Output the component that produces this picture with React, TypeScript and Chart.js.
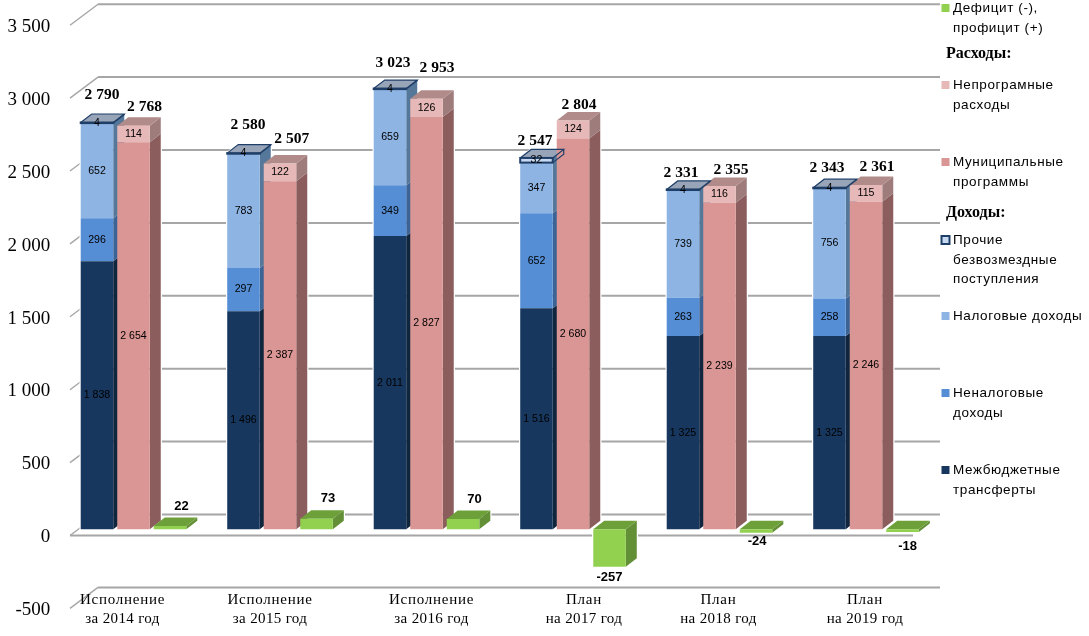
import React, { useEffect, useRef } from "react";
import { Chart, registerables } from "chart.js";

Chart.register(...registerables);

const categories = [
  ["Исполнение", "за 2014 год"],
  ["Исполнение", "за 2015 год"],
  ["Исполнение", "за 2016 год"],
  ["План", "на 2017 год"],
  ["План", "на 2018 год"],
  ["План", "на 2019 год"],
];
const transfers = [1838, 1496, 2011, 1516, 1325, 1325];
const nonTax = [296, 297, 349, 652, 263, 258];
const tax = [652, 783, 659, 347, 739, 756];
const otherFree = [4, 4, 4, 32, 4, 4];
const programs = [2654, 2387, 2827, 2680, 2239, 2246];
const nonProgram = [114, 122, 126, 124, 116, 115];
const balance = [22, 73, 70, -257, -24, -18];
const incomeTotals = [2790, 2580, 3023, 2547, 2331, 2343];
const expenseTotals = [2768, 2507, 2953, 2804, 2355, 2361];

// hand placement of the labels in the original, px relative to the mark
const incomeNudge = [[5, -27.5], [4.5, -28], [3, -25.6], [-1.5, -17], [-2, -16.4], [-2.5, -19.7]];
const expenseNudge = [[11, -18.7], [11.7, -24.8], [10.5, -30.7], [6, -15.5], [11.5, -16], [11, -18]];
const categoryNudge = [-11, -10, 5, 11, -1, -1];
const balanceNudge = [[11.5, -11.5], [11.5, -11.5], [11.5, -11.5], [0, 10.5], [1, 8.5], [5, 14]];

const DX = 11;
const DY = 8.5;
const FRONT_DROP = 6.2; // tick labels/grid front edge sit below the bars' front plane
const GRID_DX = 28;
const GRID_DY = 21;
const GRID_RIGHT = 940;
const FLOOR_RIGHT = 913;
const NAVY = "#1F3F68";
const SERIF = "'Liberation Serif'";
const SANS = "'Liberation Sans'";

const fmt = (v: number) => {
  const s = String(Math.abs(v));
  const body = s.length > 3 ? s.slice(0, -3) + " " + s.slice(-3) : s;
  return (v < 0 ? "-" : "") + body;
};

// [front, side, top] for every series
const styles: Record<string, string[]> = {
  transfers: ["#17375E", "#10263F", "#10263F"],
  nonTax: ["#558ED5", "#3B6395", "#3B6395"],
  tax: ["#8EB4E3", "#557799", "#6F8CB0"],
  other: ["#C6D9F1", "#557799", "#98A5B8"],
  programs: ["#D99694", "#8B5D5D", "#A07676"],
  nonProgram: ["#E6B9B8", "#9D7C7B", "#B08B89"],
  balance: ["#92D050", "#638F37", "#6EA03A"],
};

const legendRows = [
  { marker: "balance", lines: ["Дефицит (-),", "профицит (+)"], y: [8, 28] },
  { head: "Расходы:", y: [54] },
  { marker: "nonProgram", lines: ["Непрограмные", "расходы"], y: [85, 105] },
  { marker: "programs", lines: ["Муниципальные", "программы"], y: [162, 182] },
  { head: "Доходы:", y: [213] },
  { marker: "other", lines: ["Прочие", "безвозмездные", "поступления"], y: [240, 260, 279] },
  { marker: "tax", lines: ["Налоговые доходы"], y: [316] },
  { marker: "nonTax", lines: ["Неналоговые", "доходы"], y: [393, 413] },
  { marker: "transfers", lines: ["Межбюджетные", "трансферты"], y: [470, 490] },
];

function path(ctx: CanvasRenderingContext2D, pts: number[][]) {
  ctx.beginPath();
  pts.forEach((p, i) => (i ? ctx.lineTo(p[0], p[1]) : ctx.moveTo(p[0], p[1])));
  ctx.closePath();
}

function poly(ctx: CanvasRenderingContext2D, pts: number[][], fill: string) {
  path(ctx, pts);
  ctx.fillStyle = fill;
  ctx.fill();
}

const scene = {
  id: "scene",
  beforeDatasetsDraw(chart: any) {
    const { ctx } = chart;
    const yS = chart.scales.y;
    ctx.save();
    ctx.strokeStyle = "#A6A6A6";
    for (const t of yS.ticks) {
      const fy = yS.getPixelForValue(t.value) + FRONT_DROP;
      const by = fy - GRID_DY;
      ctx.lineWidth = 1.4;
      ctx.beginPath();
      ctx.moveTo(70, fy);
      ctx.lineTo(70 + GRID_DX, by);
      ctx.stroke();
      ctx.lineWidth = 2;
      ctx.beginPath();
      ctx.moveTo(70 + GRID_DX, by);
      ctx.lineTo(GRID_RIGHT, by);
      ctx.stroke();
      if (t.value === 0) {
        ctx.beginPath();
        ctx.moveTo(70, fy);
        ctx.lineTo(FLOOR_RIGHT, fy);
        ctx.stroke();
      }
    }
    const order = ["inc", "exp", "bal"];
    const stackMetas = (stack: string) => {
      const metas = chart.getSortedVisibleDatasetMetas().filter((m: any) => m._dataset.stack === stack);
      return metas.sort((a: any, b: any) => a.index - b.index);
    };
    // thin white halo that cuts the grid around each stack
    ctx.strokeStyle = "#fff";
    ctx.lineWidth = 2.4;
    chart.data.labels.forEach((_: any, i: number) => {
      order.forEach((stack) => {
        const els = stackMetas(stack).map((m: any) => m.data[i]);
        const t = Math.min(...els.map((e: any) => Math.min(e.y, e.base)));
        const b = Math.max(...els.map((e: any) => Math.max(e.y, e.base)));
        const x1 = els[0].x - els[0].width / 2;
        const x2 = els[0].x + els[0].width / 2;
        path(ctx, [[x1, t], [x1 + DX, t - DY], [x2 + DX, t - DY], [x2 + DX, b - DY], [x2, b], [x1, b]]);
        ctx.stroke();
      });
    });
    // 3D faces, left to right so that nearer stacks overlap further ones
    chart.data.labels.forEach((_: any, i: number) => {
      order.forEach((stack) => {
        const metas = stackMetas(stack);
        metas.forEach((m: any, k: number) => {
          const el = m.data[i];
          const st = styles[m._dataset.key];
          const x2 = el.x + el.width / 2;
          const x1 = el.x - el.width / 2;
          const t = Math.min(el.y, el.base);
          const b = Math.max(el.y, el.base);
          poly(ctx, [[x2, t], [x2 + DX, t - DY], [x2 + DX, b - DY], [x2, b]], st[1]);
          if (k === metas.length - 1) {
            poly(ctx, [[x1, t], [x1 + DX, t - DY], [x2 + DX, t - DY], [x2, t]], st[2]);
          }
        });
      });
    });
    ctx.restore();
  },
  afterDatasetsDraw(chart: any) {
    const { ctx } = chart;
    const xS = chart.scales.x;
    ctx.save();
    const metaOf = (key: string) =>
      chart.getSortedVisibleDatasetMetas().find((m: any) => m._dataset.key === key);

    // navy outline of the thin top series
    const other = metaOf("other");
    ctx.strokeStyle = NAVY;
    other.data.forEach((el: any) => {
      const x1 = el.x - el.width / 2;
      const x2 = el.x + el.width / 2;
      const t = el.y;
      const b = el.base;
      ctx.lineWidth = 2;
      ctx.strokeRect(x1, t, el.width, b - t);
      ctx.lineWidth = 1.2;
      ctx.beginPath();
      ctx.moveTo(x1, t);
      ctx.lineTo(x1 + DX, t - DY);
      ctx.lineTo(x2 + DX, t - DY);
      ctx.lineTo(x2, t);
      ctx.moveTo(x2 + DX, t - DY);
      ctx.lineTo(x2 + DX, b - DY);
      ctx.lineTo(x2, b);
      ctx.stroke();
    });

    // values inside the segments
    ctx.textAlign = "center";
    ctx.textBaseline = "middle";
    ctx.fillStyle = "#000";
    ctx.font = `10.6px ${SANS}`;
    ["transfers", "nonTax", "tax", "other", "programs", "nonProgram"].forEach((key) => {
      const m = metaOf(key);
      m.data.forEach((el: any, i: number) => {
        ctx.fillText(fmt(m._dataset.data[i]), el.x, (el.y + el.base) / 2);
      });
    });

    // stack totals
    ctx.font = `bold 15.5px ${SERIF}`;
    const topInc = metaOf("other");
    const topExp = metaOf("nonProgram");
    incomeTotals.forEach((v, i) => {
      const el = topInc.data[i];
      ctx.fillText(fmt(v), el.x + incomeNudge[i][0], el.y + incomeNudge[i][1]);
    });
    expenseTotals.forEach((v, i) => {
      const el = topExp.data[i];
      ctx.fillText(fmt(v), el.x + expenseNudge[i][0], el.y + expenseNudge[i][1]);
    });

    // balance labels
    ctx.font = `bold 13px ${SANS}`;
    const bal = metaOf("balance");
    balance.forEach((v, i) => {
      const el = bal.data[i];
      const edge = v >= 0 ? el.y - DY : el.y;
      ctx.fillText(fmt(v), el.x + balanceNudge[i][0], edge + balanceNudge[i][1]);
    });

    // category labels
    ctx.font = `15px ${SERIF}`;
    categories.forEach((lines, i) => {
      const x = xS.getPixelForTick(i) + categoryNudge[i];
      (ctx as any).letterSpacing = "0.75px";
      ctx.fillText(lines[0], x, 600);
      (ctx as any).letterSpacing = "0.35px";
      ctx.fillText(lines[1], x, 619);
    });
    (ctx as any).letterSpacing = "0px";

    // legend
    ctx.textAlign = "left";
    legendRows.forEach((row: any) => {
      if (row.head) {
        ctx.font = `bold 16px ${SERIF}`;
        ctx.fillStyle = "#000";
        ctx.fillText(row.head, 946, row.y[0]);
        return;
      }
      const c = styles[row.marker][0];
      ctx.fillStyle = c;
      ctx.fillRect(941.5, row.y[0] - 4, 8, 8);
      if (row.marker === "other") {
        ctx.strokeStyle = NAVY;
        ctx.lineWidth = 2;
        ctx.strokeRect(941.5, row.y[0] - 4, 8, 8);
      }
      ctx.fillStyle = "#000";
      ctx.font = `13.5px ${SANS}`;
      (ctx as any).letterSpacing = "0.6px";
      row.lines.forEach((l: string, k: number) => ctx.fillText(l, 953, row.y[k]));
      (ctx as any).letterSpacing = "0px";
    });
    ctx.restore();
  },
};

const ds = (label: string, key: string, stack: string, data: number[]) => ({
  label,
  key,
  stack,
  data,
  backgroundColor: styles[key][0],
  borderWidth: 0,
  categoryPercentage: 0.748,
  barPercentage: 0.89,
});

export default function App() {
  const ref = useRef<HTMLCanvasElement>(null);
  useEffect(() => {
    const chart = new Chart(ref.current as HTMLCanvasElement, {
      type: "bar",
      plugins: [scene],
      data: {
        labels: categories.map((c) => c.join(" ")),
        datasets: [
          ds("Межбюджетные трансферты", "transfers", "inc", transfers),
          ds("Неналоговые доходы", "nonTax", "inc", nonTax),
          ds("Налоговые доходы", "tax", "inc", tax),
          ds("Прочие безвозмездные поступления", "other", "inc", otherFree),
          ds("Муниципальные программы", "programs", "exp", programs),
          ds("Непрограмные расходы", "nonProgram", "exp", nonProgram),
          ds("Дефицит (-), профицит (+)", "balance", "bal", balance),
        ] as any,
      },
      options: {
        animation: false,
        responsive: false,
        devicePixelRatio: 1,
        layout: { padding: { left: 0, right: 149.75, top: 19, bottom: 33.8 } },
        plugins: { legend: { display: false }, tooltip: { enabled: false } },
        scales: {
          x: { display: false, stacked: true, offset: true },
          y: {
            stacked: true,
            min: -500,
            max: 3500,
            afterFit: (s: any) => {
              s.width = 60.25;
              s.paddingTop = 0;
              s.paddingBottom = 0;
            },
            border: { display: false },
            grid: { display: false, drawTicks: false },
            ticks: {
              stepSize: 500,
              padding: 10,
              labelOffset: 8,
              color: "#000",
              font: { family: "Liberation Serif", size: 19 },
              callback: (v: any) => fmt(Number(v)),
            },
          },
        },
      } as any,
    });
    return () => chart.destroy();
  }, []);
  return (
    <div style={{ position: "absolute", left: 0, top: 0, width: 1089, height: 636, background: "#fff" }}>
      <canvas ref={ref} width={1089} height={636} style={{ display: "block" }} />
    </div>
  );
}
